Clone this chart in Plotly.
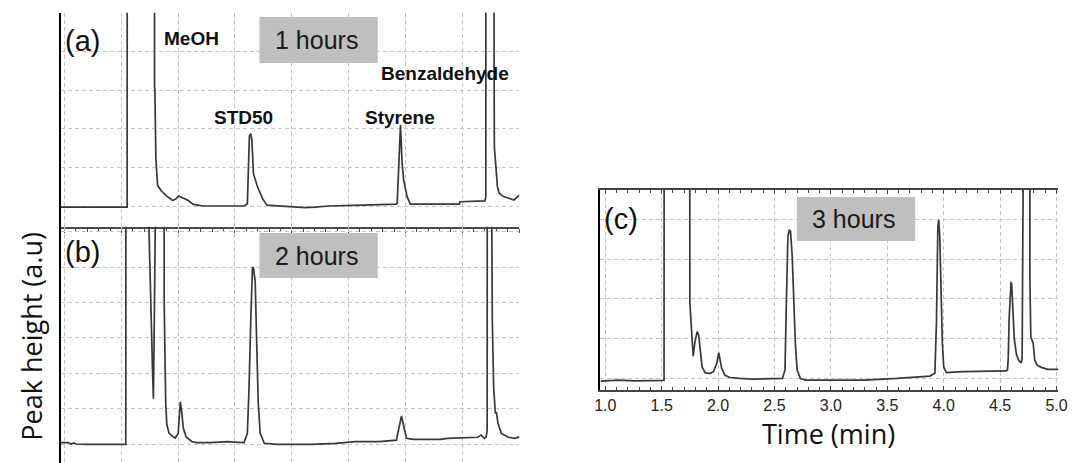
import plotly.graph_objects as go

# ---------------- data (time in min, signal in grid units; off-scale peaks = 30) -------------
a_time = [0.968, 1.20, 1.40, 1.551, 1.553, 1.791, 1.792, 1.795, 1.804, 1.819, 1.849, 1.894, 1.953,
          1.983, 2.004, 2.043, 2.089, 2.132, 2.22, 2.58, 2.609, 2.627, 2.639, 2.648, 2.663, 2.699,
          2.743, 2.782, 2.877, 3.011, 3.116, 3.205, 3.325, 3.623, 3.921, 3.928, 3.945, 3.957,
          3.971, 3.985, 4.015, 4.044, 4.368, 4.476, 4.480, 4.70, 4.708, 4.710, 4.772, 4.775,
          4.781, 4.783, 4.796, 4.81, 4.825, 4.86, 4.91, 4.955, 5.004]
a_signal = [-0.03, -0.03, -0.03, -0.03, 30, 30, 3.1, 3.0, 1.21, 0.53, 0.40, 0.27, 0.145,
            0.19, 0.26, 0.21, 0.145, 0.04, 0.0, 0.0, 0.06, 1.81, 1.87, 1.73, 0.83, 0.49,
            0.19, 0.02, 0.0, -0.03, -0.04, -0.03, 0.0, 0.02, 0.05, 0.08, 1.40, 2.10,
            1.11, 0.67, 0.24, 0.05, 0.05, 0.05, 0.11, 0.13, 0.25, 30, 30, 3.9,
            3.7, 1.53, 1.02, 0.5, 0.33, 0.25, 0.2, 0.155, 0.28]

b_time = [0.968, 1.03, 1.06, 1.08, 1.10, 1.20, 1.539, 1.542, 1.741, 1.742, 1.775, 1.782, 1.790,
          1.800, 1.801, 1.873, 1.877, 1.89, 1.90, 1.92, 1.95, 1.975, 2.0, 2.012, 2.019, 2.03,
          2.045, 2.07, 2.12, 2.16, 2.28, 2.43, 2.58, 2.609, 2.624, 2.639, 2.654, 2.663, 2.678,
          2.690, 2.705, 2.722, 2.758, 2.877, 3.176, 3.384, 3.563, 3.772, 3.921, 3.945, 3.966,
          3.987, 4.010, 4.070, 4.309, 4.368, 4.637, 4.666, 4.696, 4.711, 4.720, 4.722, 4.758,
          4.765, 4.777, 4.792, 4.801, 4.815, 4.845, 4.905, 4.964, 5.004]
b_signal = [0.04, 0.04, 0.0, 0.03, 0.0, -0.01, -0.01, 30, 30, 6.2, 2.0, 1.28, 3.5,
            6.2, 30, 30, 4.0, 1.2, 0.55, 0.3, 0.22, 0.17, 0.3, 0.9, 1.19, 0.95,
            0.45, 0.2, 0.07, 0.04, 0.04, 0.065, 0.04, 0.3, 1.61, 3.5, 5.0, 4.97, 4.6,
            3.0, 1.14, 0.30, 0.02, -0.01, -0.01, 0.02, 0.065, 0.065, 0.11, 0.48, 0.79,
            0.48, 0.16, 0.13, 0.13, 0.16, 0.19, 0.25, 0.16, 0.2, 0.4, 30, 30,
            3.5, 1.6, 0.86, 0.9, 0.58, 0.3, 0.19, 0.16, 0.2]

c_time = [0.958, 1.116, 1.262, 1.509, 1.521, 1.523, 1.741, 1.750, 1.762, 1.773, 1.779, 1.794,
          1.814, 1.828, 1.843, 1.858, 1.887, 1.930, 1.959, 1.988, 2.006, 2.017, 2.032, 2.061,
          2.105, 2.192, 2.308, 2.570, 2.593, 2.605, 2.619, 2.631, 2.642, 2.657, 2.672, 2.686,
          2.701, 2.730, 2.773, 3.006, 3.297, 3.587, 3.733, 3.878, 3.922, 3.936, 3.948, 3.956,
          3.965, 3.974, 3.988, 4.000, 4.023, 4.169, 4.459, 4.50, 4.55, 4.565, 4.572, 4.58,
          4.588, 4.594, 4.597, 4.603, 4.612, 4.625, 4.645, 4.665, 4.688, 4.695, 4.700, 4.706,
          4.762, 4.764, 4.772, 4.793, 4.807, 4.830, 4.865, 4.923, 5.017]
c_signal = [-0.067, -0.042, -0.059, -0.059, -0.05, 30, 30, 1.89, 1.30, 0.8, 0.56, 0.9,
            1.18, 1.09, 0.71, 0.29, 0.14, 0.13, 0.17, 0.38, 0.65, 0.50, 0.25, 0.08,
            0.025, 0.0, -0.017, 0.0, 0.21, 1.89, 3.57, 3.74, 3.70, 3.07, 1.89, 0.80,
            0.21, 0.0, -0.04, -0.04, -0.04, 0.0, 0.025, 0.06, 0.13, 1.47, 3.82, 3.99,
            3.57, 2.31, 0.88, 0.29, 0.15, 0.17, 0.185, 0.17, 0.19, 0.21, 0.5, 1.5,
            2.2, 2.38, 2.43, 2.35, 1.7, 1.0, 0.6, 0.46, 0.39, 0.5, 3.0, 30,
            30, 2.47, 1.05, 0.88, 0.46, 0.33, 0.28, 0.23, 0.23]

x_ticks = [1.0, 1.5, 2.0, 2.5, 3.0, 3.5, 4.0, 4.5, 5.0]
x_labels = ["1.0", "1.5", "2.0", "2.5", "3.0", "3.5", "4.0", "4.5", "5.0"]
panel_labels = ["(a)", "(b)", "(c)"]
hour_labels = ["1 hours", "2 hours", "3 hours"]
peak_names = ["MeOH", "STD50", "Styrene", "Benzaldehyde"]
x_title = "Time (min)"
y_title = "Peak height (a.u)"

# ---------------- layout helpers ----------------
W, H = 1078, 463


def px(x):
    return x / W


def py(y):
    return 1 - y / H


LINE = "#383838"
GRID = "#c4c4c4"
BOX = "#bfbfbf"
TXT = "#111111"

fig = go.Figure()
trace_style = dict(mode="lines", line=dict(color=LINE, width=1.7), hoverinfo="skip",
                   showlegend=False)
fig.add_trace(go.Scatter(x=a_time, y=a_signal, xaxis="x", yaxis="y", **trace_style))
fig.add_trace(go.Scatter(x=b_time, y=b_signal, xaxis="x2", yaxis="y2", **trace_style))
fig.add_trace(go.Scatter(x=c_time, y=c_signal, xaxis="x3", yaxis="y3", **trace_style))

grid_common = dict(showgrid=True, gridcolor=GRID, gridwidth=1, griddash="4px,3px",
                   zeroline=False)
xgrid = dict(tickmode="array", tickvals=x_ticks, **grid_common)

fig.update_layout(
    width=W, height=H,
    margin=dict(l=0, r=0, t=0, b=0),
    paper_bgcolor="white", plot_bgcolor="white",
    showlegend=False,
    font=dict(family="Liberation Sans, Arial, sans-serif", color=TXT),
    xaxis=dict(domain=[px(55.7), px(520.7)], range=[0.968, 5.004], anchor="y",
               showticklabels=False, showline=True, linecolor="#4a4a4a", linewidth=2,
               ticks="outside", ticklen=4, tickcolor="#4a4a4a",
               minor=dict(dtick=0.1, tick0=1.0, ticks="outside", ticklen=3,
                          tickcolor="#4a4a4a", showgrid=False),
               **xgrid),
    yaxis=dict(domain=[py(226.7), py(12.7)], range=[-0.536, 5.004], anchor="x",
               dtick=1, tick0=0, showticklabels=False, showline=True, linecolor="black",
               linewidth=2, ticks="", **grid_common),
    xaxis2=dict(domain=[px(55.7), px(520.7)], range=[0.968, 5.004], anchor="y2",
                showticklabels=False, showline=False, ticks="", **xgrid),
    yaxis2=dict(domain=[0, py(226.7)], range=[-0.537, 6.14], anchor="x2",
                dtick=1, tick0=0, showticklabels=False, showline=True, linecolor="black",
                linewidth=2, ticks="", **grid_common),
    xaxis3=dict(domain=[px(602.7), px(1067.3)], range=[0.956, 5.017], anchor="y3",
                ticktext=x_labels, showticklabels=True,
                tickfont=dict(size=16, color="#222222",
                              family="Liberation Sans, Arial, sans-serif"),
                showline=True, mirror="ticks", linecolor="#444444", linewidth=2,
                ticks="inside", ticklen=4, tickcolor="#444444",
                minor=dict(dtick=0.1, tick0=1.0, ticks="inside", ticklen=3,
                           tickcolor="#444444", showgrid=False),
                **xgrid),
    yaxis3=dict(domain=[py(390), py(190)], range=[-0.29, 4.74], anchor="x3",
                dtick=1, tick0=0, showticklabels=False, showline=True, linecolor="black",
                linewidth=2, ticks="", **grid_common),
)

# gray label boxes
boxes = [(257, 377, 17, 63), (257, 377, 233, 278), (802, 922, 197, 241)]
for (x0, x1, y0, y1) in boxes:
    fig.add_shape(type="rect", xref="paper", yref="paper",
                  x0=px(x0), x1=px(x1), y0=py(y1), y1=py(y0),
                  fillcolor=BOX, line=dict(width=0), layer="above")

ann = []
# panel letters
for lbl, (x, y) in zip(panel_labels, [(59, 41), (59, 252), (605, 219)]):
    ann.append(dict(text=lbl, x=px(x), y=py(y), xanchor="left", yanchor="middle",
                    font=dict(size=29, color=TXT)))
# hours labels
for lbl, (x, y) in zip(hour_labels, [(315, 40), (315, 256), (859, 219)]):
    ann.append(dict(text=lbl, x=px(x), y=py(y), xanchor="center", yanchor="middle",
                    font=dict(size=25, color="#1a1a1a")))
# compound labels
for lbl, (x, y) in zip(peak_names, [(159, 38), (209.5, 117), (363.5, 118), (379, 73)]):
    ann.append(dict(text="<b>" + lbl + "</b>", x=px(x), y=py(y), xanchor="left",
                    yanchor="middle", font=dict(size=19, color=TXT)))
# axis titles
ann.append(dict(text=x_title, x=px(834), y=py(433), xanchor="center", yanchor="middle",
                font=dict(size=27, color=TXT, family="Open Sans, sans-serif")))
ann.append(dict(text=y_title, x=px(25), y=py(336), xanchor="center", yanchor="middle",
                textangle=-90, font=dict(size=27, color=TXT, family="Open Sans, sans-serif")))
for a in ann:
    a.update(xref="paper", yref="paper", showarrow=False, borderpad=0)
fig.update_layout(annotations=ann)

fig.write_html("out.html",
               config={"displayModeBar": False, "staticPlot": True},
               post_script="document.body.style.margin='0px';"
                           "document.body.style.overflow='hidden';")
